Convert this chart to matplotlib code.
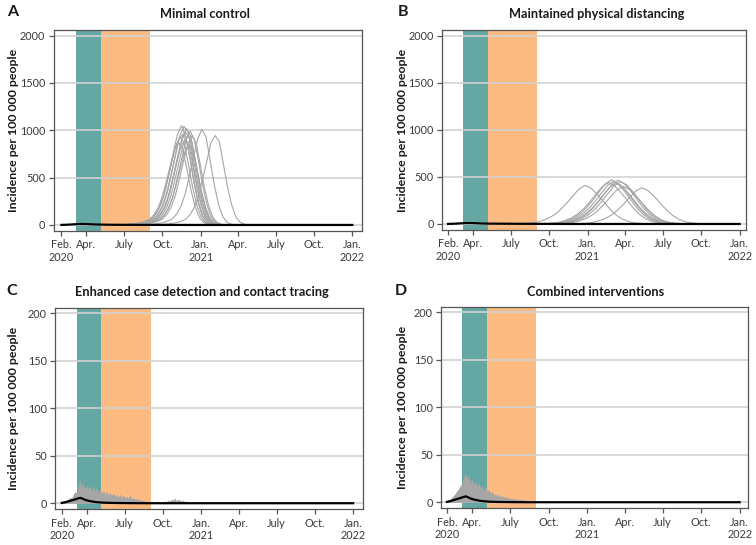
import numpy as np
import matplotlib
matplotlib.use("Agg")
import matplotlib.pyplot as plt

plt.rcParams['font.family'] = ['Lato', 'DejaVu Sans']

# ---------------- data ----------------
ORIGIN = "2020-02-01"
TICK_DATES = ["2020-02-01", "2020-04-01", "2020-07-01", "2020-10-01", "2021-01-01",
              "2021-04-01", "2021-07-01", "2021-10-01", "2022-01-01"]
TICK_LABELS = ["Feb.\n2020", "Apr.", "July", "Oct.", "Jan.\n2021",
               "Apr.", "July", "Oct.", "Jan.\n2022"]
GREEN_PERIOD = ("2020-03-08", "2020-05-06")
ORANGE_PERIOD = ("2020-05-06", "2020-09-02")

TITLES = ["Minimal control", "Maintained physical distancing",
          "Enhanced case detection and contact tracing", "Combined interventions"]
LETTERS = ["A", "B", "C", "D"]

# Panel A: simulated trajectories (days since 1 Feb 2020 of first value, 10-day steps)
A_STEP = 10
A_START = [152, 156, 159, 162, 165, 167, 169, 171, 174, 177, 180, 184, 208, 240]
A_CURVES = [
    [4, 7, 11, 17, 26, 39, 61, 104, 174, 287, 452, 626, 792, 870, 800, 592, 365, 191, 78, 26, 9],
    [5, 7, 12, 19, 28, 42, 65, 112, 186, 307, 484, 670, 846, 930, 860, 632, 391, 205, 84, 28, 9],
    [5, 8, 13, 21, 31, 47, 73, 126, 210, 346, 546, 756, 955, 1050, 940, 714, 441, 231, 94, 31, 10],
    [5, 8, 12, 19, 29, 43, 67, 115, 192, 317, 499, 691, 890, 960, 874, 653, 403, 211, 86, 29, 10],
    [5, 8, 14, 21, 31, 47, 73, 125, 208, 343, 541, 749, 946, 1040, 980, 707, 437, 229, 94, 31, 10],
    [5, 7, 12, 18, 27, 41, 63, 108, 180, 297, 468, 648, 819, 900, 840, 612, 378, 198, 81, 27, 9],
    [5, 8, 13, 20, 29, 44, 69, 118, 196, 323, 510, 706, 892, 980, 920, 666, 412, 216, 88, 29, 10],
    [5, 8, 13, 20, 31, 46, 71, 122, 204, 337, 530, 734, 928, 1020, 940, 694, 428, 224, 92, 31, 10],
    [5, 8, 12, 19, 29, 43, 67, 114, 190, 314, 494, 684, 865, 950, 880, 646, 399, 209, 86, 29, 10],
    [4, 7, 11, 17, 26, 38, 60, 102, 170, 281, 442, 612, 774, 850, 790, 578, 357, 187, 77, 26, 9],
    [5, 8, 13, 20, 30, 45, 69, 119, 198, 327, 515, 713, 901, 990, 900, 673, 416, 218, 89, 30, 10],
    [5, 8, 12, 19, 28, 42, 66, 113, 188, 310, 489, 677, 855, 940, 870, 639, 395, 207, 85, 28, 9],
    [5, 8, 13, 20, 30, 45, 70, 120, 200, 330, 520, 720, 910, 1010, 930, 680, 420, 220, 90, 30, 10],
    [5, 8, 12, 19, 28, 42, 66, 113, 188, 310, 489, 677, 870, 945, 880, 639, 395, 207, 85, 28, 9],
]

# Panel B: simulated trajectories (15-day steps)
B_STEP = 15
B_START = [179, 235, 242, 248, 253, 258, 264, 270, 315]
B_CURVES = [
    [4, 8, 16, 33, 57, 94, 148, 217, 295, 369, 410, 377, 312, 234, 156, 94, 49, 25, 12, 5, 2],
    [4, 9, 18, 35, 62, 101, 158, 233, 317, 396, 440, 405, 334, 251, 167, 101, 53, 26, 13, 5, 2],
    [5, 9, 19, 38, 66, 108, 169, 249, 338, 423, 470, 432, 357, 268, 179, 108, 56, 28, 14, 6, 2],
    [5, 9, 18, 36, 64, 105, 164, 241, 328, 410, 455, 419, 346, 259, 173, 105, 55, 27, 14, 5, 2],
    [4, 9, 17, 34, 60, 99, 155, 228, 310, 387, 430, 396, 327, 245, 163, 99, 52, 26, 13, 5, 2],
    [5, 9, 19, 37, 65, 107, 167, 246, 335, 419, 465, 428, 353, 265, 177, 107, 56, 28, 14, 6, 2],
    [5, 9, 18, 36, 63, 104, 162, 239, 324, 405, 450, 414, 342, 257, 171, 104, 54, 27, 14, 5, 2],
    [4, 8, 16, 32, 56, 92, 144, 212, 288, 360, 400, 368, 304, 228, 152, 92, 48, 24, 12, 5, 2],
    [4, 8, 15, 31, 54, 89, 139, 204, 277, 347, 385, 354, 293, 219, 146, 89, 46, 23, 12, 5, 2],
]

# Median trajectories (days since 1 Feb 2020)
MED_AB_DAYS = [0, 10, 20, 30, 40, 50, 60, 75, 90, 120, 160, 220, 300, 700]
MED_A = [0.5, 2, 4, 7, 9, 10, 9, 6, 4, 2, 1, 0.5, 0, 0]
MED_B = [0.5, 2, 4, 7, 9, 10, 9, 6, 4, 3, 2, 1, 0, 0]
MED_CD_DAYS = [0, 8, 16, 24, 32, 40, 45, 50, 56, 64, 72, 80, 90, 100, 120, 160, 200, 700]
MED_C = [0.3, 1, 2, 3, 4, 5.2, 5.6, 4.8, 3.6, 2.6, 1.9, 1.3, 0.9, 0.6, 0.3, 0.1, 0, 0]
MED_D = [0.4, 1.2, 2.3, 3.3, 4.4, 5.6, 6.2, 5.3, 4.0, 2.9, 2.1, 1.4, 1.0, 0.6, 0.3, 0.1, 0, 0]

# Panels C, D: upper envelope of simulated trajectories (4-day steps)
ENV_STEP = 4
C_ENV_START = 0
C_ENV = [1, 2, 1.5, 3, 4, 6, 5, 9, 12, 10, 17, 24, 16, 21, 14, 19, 15, 18, 13, 17,
         12, 16, 11, 14, 10, 13, 9, 12, 8, 11, 8, 10, 7, 9, 6, 9, 6, 8, 5, 7,
         5, 8, 4, 6, 4, 5, 3, 4, 2, 3, 1.5, 2, 1, 1, 0.5]
C_ENV2_START = 240
C_ENV2 = [0.5, 1, 2, 1, 3, 2, 4, 3, 5, 2, 4, 3, 2, 3, 1, 2, 1, 0.5, 1, 0.5]
D_ENV_START = 0
D_ENV = [1, 2, 3, 5, 7, 9, 12, 14, 17, 20, 26, 30, 24, 28, 20, 25, 18, 22, 17, 20,
         14, 18, 12, 16, 11, 13, 9, 11, 7, 9, 6, 8, 5, 7, 4, 6, 4, 5, 3, 4,
         3, 4, 2, 3, 2, 3, 1.5, 2, 1, 0.5]

# ---------------- style ----------------
TEAL = "#65a8a3"
ORANGE = "#fdbb84"
SIM_GRAY = "#a6a6a6"
SPINE = "#555555"
W, H = 756, 545


def day(s):
    return int((np.datetime64(s) - np.datetime64(ORIGIN)).astype(int))


def px_axes(left, top, right, bottom):
    return [left / W, 1 - bottom / H, (right - left) / W, (bottom - top) / H]


fig = plt.figure(figsize=(W / 100, H / 100), dpi=100)

boxes = [px_axes(53.5, 30, 362.3, 231), px_axes(442, 30, 746.3, 230),
         px_axes(55.3, 307.7, 362.7, 509.3), px_axes(441.3, 306.7, 748, 508.3)]
xlims = [(-19, 724), (-14.5, 716), (-15.4, 723), (-13.6, 720)]
ymaxes = [2000, 2000, 200, 200]
ytick_sets = [[0, 500, 1000, 1500, 2000], [0, 500, 1000, 1500, 2000],
              [0, 50, 100, 150, 200], [0, 50, 100, 150, 200]]
letter_pos = [(12.5, 12.5), (403, 12.5), (11.5, 291), (400.5, 291)]
title_pos = [(205, 14), (597, 14), (202, 292), (596, 292)]
ylabel_x = [13.5, 403, 14, 402]

axes = []
for i in range(4):
    ax = fig.add_axes(boxes[i])
    axes.append(ax)
    ax.axvspan(day(GREEN_PERIOD[0]), day(GREEN_PERIOD[1]), color=TEAL, lw=0, zorder=0)
    ax.axvspan(day(ORANGE_PERIOD[0]), day(ORANGE_PERIOD[1]), color=ORANGE, lw=0, zorder=0)
    ax.set_axisbelow(True)
    ax.yaxis.grid(True, color="#d2d2d2", lw=1.2)
    ax.set_xlim(*xlims[i])
    ym = ymaxes[i]
    ax.set_ylim(-0.032 * ym, 1.03 * ym)
    ax.set_yticks(ytick_sets[i])
    ax.set_xticks([day(d) for d in TICK_DATES])
    ax.set_xticklabels(TICK_LABELS)
    for sp in ax.spines.values():
        sp.set_color(SPINE)
        sp.set_linewidth(0.9)
    ax.tick_params(direction="out", length=3.5, width=0.9, color=SPINE,
                   labelcolor="#3a3a3a", labelsize=7.8, pad=2.5)
    bx = boxes[i]
    cy = (bx[1] + bx[3] / 2)
    fig.text(ylabel_x[i] / W, cy, "Incidence per 100 000 people", rotation=90,
             ha="center", va="center", fontsize=8.9, fontweight="bold", color="#1a1a1a")
    fig.text(letter_pos[i][0] / W, 1 - letter_pos[i][1] / H, LETTERS[i],
             ha="center", va="center", fontsize=11.5, fontweight="bold", color="#1a1a1a")
    fig.text(title_pos[i][0] / W, 1 - title_pos[i][1] / H, TITLES[i],
             ha="center", va="center", fontsize=9.2, fontweight="bold", color="#1a1a1a")

# Panel A
ax = axes[0]
for s, vals in zip(A_START, A_CURVES):
    xs = [s + A_STEP * k for k in range(len(vals))]
    ax.plot(xs, vals, color=SIM_GRAY, lw=0.8, zorder=2)
ax.plot(MED_AB_DAYS, MED_A, color="black", lw=1.6, zorder=3)

# Panel B
ax = axes[1]
for s, vals in zip(B_START, B_CURVES):
    xs = [s + B_STEP * k for k in range(len(vals))]
    ax.plot(xs, vals, color=SIM_GRAY, lw=0.8, zorder=2)
ax.plot(MED_AB_DAYS, MED_B, color="black", lw=1.6, zorder=3)

# Panel C
ax = axes[2]
xs = [C_ENV_START + ENV_STEP * k for k in range(len(C_ENV))]
ax.fill_between(xs, 0, C_ENV, color=SIM_GRAY, lw=0.3, edgecolor=SIM_GRAY, zorder=2)
xs2 = [C_ENV2_START + ENV_STEP * k for k in range(len(C_ENV2))]
ax.fill_between(xs2, 0, C_ENV2, color=SIM_GRAY, lw=0.3, edgecolor=SIM_GRAY, zorder=2)
ax.plot(MED_CD_DAYS, MED_C, color="black", lw=1.6, zorder=3)

# Panel D
ax = axes[3]
xs = [D_ENV_START + ENV_STEP * k for k in range(len(D_ENV))]
ax.fill_between(xs, 0, D_ENV, color=SIM_GRAY, lw=0.3, edgecolor=SIM_GRAY, zorder=2)
ax.plot(MED_CD_DAYS, MED_D, color="black", lw=1.6, zorder=3)

fig.savefig("out.png", dpi=100)
